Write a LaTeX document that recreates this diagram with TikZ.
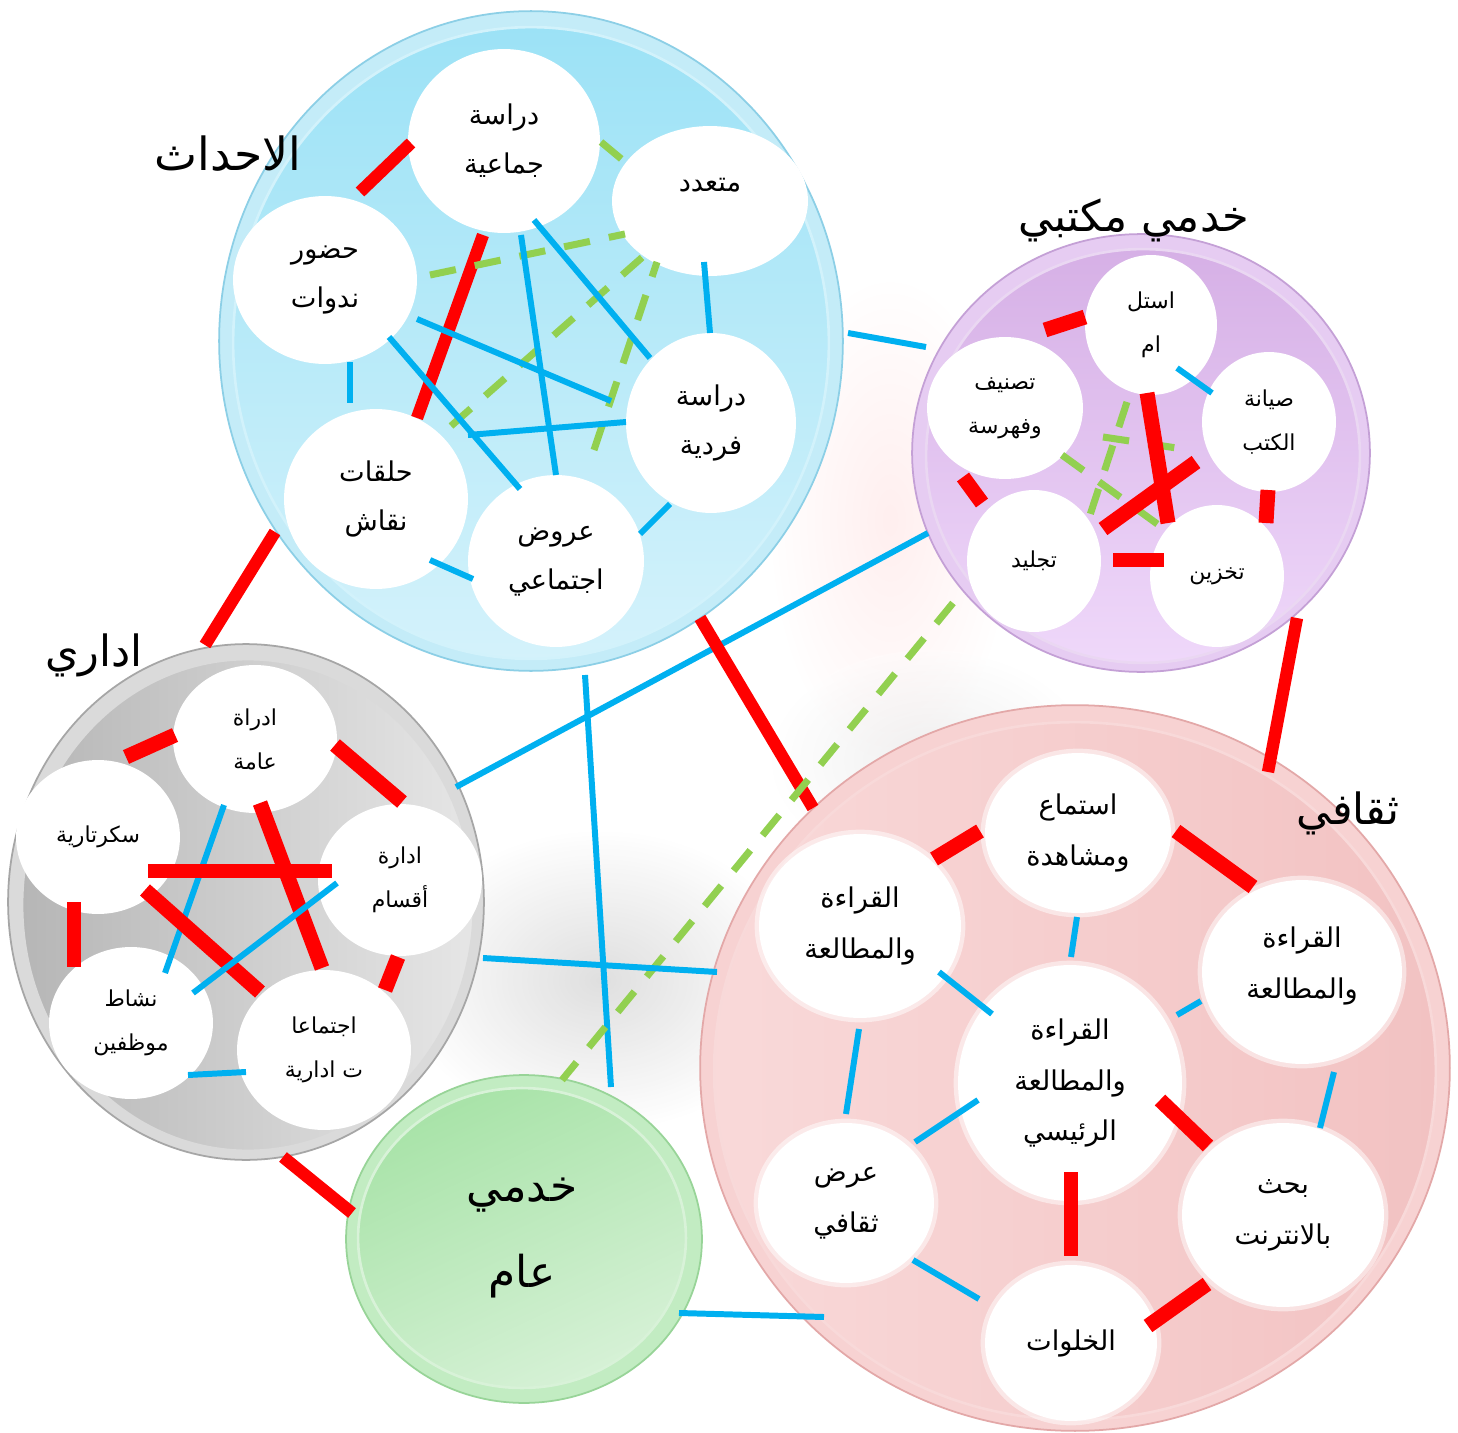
\documentclass[tikz,border=0pt]{standalone}
\usepackage{fontspec}
\usetikzlibrary{shapes.geometric}
\TeXXeTstate=1
\newfontfamily\arfont[Script=Arabic]{DejaVu Sans}
\newcommand\artx[1]{\beginR #1\endR}
\newcommand\mkseg[4]{\coordinate (#1a) at (#3); \coordinate (#1b) at (#4); \draw[#2] (#1a) -- (#1b);}
\definecolor{lnblue}{HTML}{00B0F0}
\definecolor{lngreen}{HTML}{92D050}
\definecolor{lnred}{HTML}{FF0000}
\definecolor{bRim}{HTML}{C4ECF8}\definecolor{bEdge}{HTML}{8CCFE6}\definecolor{bTop}{HTML}{9CE2F6}\definecolor{bBot}{HTML}{D4F2FB}
\definecolor{pRim}{HTML}{E6CCF2}\definecolor{pEdge}{HTML}{C4A0D6}\definecolor{pTop}{HTML}{D6B0E6}\definecolor{pBot}{HTML}{EFD8FA}
\definecolor{gRim}{HTML}{DADADA}\definecolor{gEdge}{HTML}{A6A6A6}\definecolor{gLeft}{HTML}{B6B6B6}\definecolor{gRight}{HTML}{E6E6E6}
\definecolor{kRim}{HTML}{F7D2D2}\definecolor{kEdge}{HTML}{E3A8A8}\definecolor{kLeft}{HTML}{F9D9D9}\definecolor{kMid}{HTML}{F1B3B3}\definecolor{kRight}{HTML}{F2C2C2}
\definecolor{eRim}{HTML}{C2ECC2}\definecolor{eEdge}{HTML}{98D498}\definecolor{eTop}{HTML}{A8E3A8}\definecolor{eBot}{HTML}{D6F1D6}
\begin{document}
\begin{tikzpicture}[x=0.02cm,y=-0.02cm,
  wc/.style 2 args={ellipse,fill=white,inner sep=0pt,align=center,minimum width=#1*0.04cm,minimum height=#2*0.04cm},
  big/.style 2 args={ellipse,inner sep=0pt,minimum width=#1*0.04cm,minimum height=#2*0.04cm},
  bl/.style={line width=3.4pt,lnblue},
  rd/.style={line width=7pt,lnred},
  rdb/.style={line width=8.5pt,lnred},
  gd/.style={line width=4pt,lngreen,dash pattern=on 15pt off 11pt},
  fblue/.style={align=center,font=\arfont\fontsize{15.5}{27.8}\selectfont},
  fpink/.style={align=center,font=\arfont\fontsize{15.5}{29}\selectfont},
  fsmall/.style={align=center,font=\arfont\fontsize{12.5}{25}\selectfont},
  ftitle/.style={font=\arfont\fontsize{24.5}{30}\selectfont},
  soft/.style={draw=white,draw opacity=0.5,line width=5pt}
]
\useasboundingbox (0,0) rectangle (1458,1433);
\fill[white] (0,0) rectangle (1458,1433);
% faint background photo tones
\shade[inner color=red!25!white,outer color=white,opacity=0.25] (890,520) ellipse [x radius=120,y radius=240];
\shade[inner color=gray!55,outer color=white,opacity=0.45] (600,980) ellipse [x radius=200,y radius=150];
\shade[inner color=gray!40,outer color=white,opacity=0.3] (930,760) ellipse [x radius=160,y radius=110];

% ---------------- big circles ----------------
\node[big={312}{330},fill=bRim,draw=bEdge,line width=1pt] (gEv) at (531,341) {};
\node[big={298}{316},top color=bTop,bottom color=bBot,draw=white!55!bTop,line width=1.5pt] (gEvIn) at (531,343) {};

\node[big={229}{219},fill=pRim,draw=pEdge,line width=1pt] (gLib) at (1141,453) {};
\node[big={217}{207},top color=pTop,bottom color=pBot,draw=white!50!pTop,line width=1.5pt] (gLibIn) at (1143,456) {};

\node[big={238}{258},fill=gRim,draw=gEdge,line width=1pt] (gAdm) at (246,902) {};
\node[big={226}{246},left color=gLeft,right color=gRight,draw=white!50!gLeft,line width=1.5pt] (gAdmIn) at (248,905) {};

\node[big={375}{363},fill=kRim,draw=kEdge,line width=1pt] (gCul) at (1075,1068) {};
\node[big={361}{349},left color=kLeft,middle color=kMid,right color=kRight,draw=white!50!kMid,line width=1.5pt] (gCulIn) at (1075,1071) {};

\node[big={178}{164},fill=eRim,draw=eEdge,line width=1pt] (gGen) at (524,1239) {};
\node[big={164}{150},top color=eTop,bottom color=eBot,shading angle=25,draw=white!55!eTop,line width=1.5pt,
      align=center,font=\arfont\fontsize{25}{49}\selectfont] (gGenIn) at (522,1238) {\artx{خدمي}\\\artx{عام}};

% ---------------- titles ----------------
\node[font=\arfont\fontsize{26}{30}\selectfont] (tEv) at (228,154) {\artx{الاحداث}};
\node[ftitle] (tLib) at (1134,220) {\artx{خدمي مكتبي}};
\node[ftitle] (tAdm) at (94,655) {\artx{اداري}};
\node[ftitle] (tCul) at (1348,813) {\artx{ثقافي}};

% ---------------- connectors between groups ----------------
\mkseg{x1}{bl}{848,333}{926,347}
\mkseg{x2}{rd}{275,532}{205,645}
\mkseg{x3}{bl}{456,787}{928,533}
\mkseg{x4}{rd}{700,618}{813,808}
\mkseg{x5}{bl}{585,675}{611,1087}
\mkseg{x6}{gd}{953,603}{562,1080}
\mkseg{x7}{rd}{1297,618}{1268,772}
\mkseg{x8}{bl}{483,958}{717,972}
\mkseg{x9}{rd}{283,1157}{352,1213}
\mkseg{x10}{bl}{679,1313}{824,1317}

% ---------------- group: events ----------------
\node[wc={96}{92},fblue] (a1) at (504,141) {\artx{دراسة}\\\artx{جماعية}};
\node[wc={98}{75}] (a2) at (710,201) {};
\node[fblue] (a2t) at (710,185) {\artx{متعدد}};
\node[wc={92}{84},fblue] (a3) at (325,280) {\artx{حضور}\\\artx{ندوات}};
\node[wc={85}{90},fblue] (a4) at (711,423) {\artx{دراسة}\\\artx{فردية}};
\node[wc={92}{90},fblue] (a5) at (376,499) {\artx{حلقات}\\\artx{نقاش}};
\node[wc={88}{86},fblue] (a6) at (556,561) {\artx{عروض}\\\artx{اجتماعي}};

\mkseg{e1}{rd}{360,192}{411,143}
\mkseg{e2}{rd}{483,235}{417,418}
\mkseg{e3}{gd}{601,142}{625,162}
\mkseg{e4}{gd}{430,275}{625,234}
\mkseg{e5}{gd}{451,426}{646,254}
\mkseg{e6}{gd}{594,450}{657,262}
\mkseg{e7}{bl}{521,235}{556,475}
\mkseg{e8}{bl}{534,220}{650,358}
\mkseg{e9}{bl}{704,262}{710,333}
\mkseg{e10}{bl}{417,319}{611,401}
\mkseg{e11}{bl}{389,337}{520,489}
\mkseg{e12}{bl}{350,362}{350,403}
\mkseg{e13}{bl}{468,435}{626,422}
\mkseg{e14}{bl}{430,560}{473,579}
\mkseg{e15}{bl}{640,534}{670,504}

% ---------------- group: library services ----------------
\node[wc={66}{70},fsmall] (p1) at (1151,325) {\artx{استل}\\\artx{ام}};
\node[wc={78}{71},fsmall] (p2) at (1005,408) {\artx{تصنيف}\\\artx{وفهرسة}};
\node[wc={67}{70},fsmall] (p3) at (1269,422) {\artx{صيانة}\\\artx{الكتب}};
\node[wc={67}{71},fsmall] (p4) at (1034,561) {\artx{تجليد}};
\node[wc={67}{71},fsmall] (p5) at (1217,576) {\artx{تخزين}};

\mkseg{l1}{rdb}{1045,330}{1085,317}
\mkseg{l2}{bl}{1177,368}{1212,393}
\mkseg{l3}{gd}{1062,455}{1167,531}
\mkseg{l4}{gd}{1127,402}{1090,515}
\mkseg{l5}{gd}{1103,437}{1190,450}
\mkseg{l6}{rdb}{1147,393}{1168,523}
\mkseg{l7}{rdb}{1103,529}{1196,462}
\mkseg{l8}{rdb}{963,477}{982,503}
\mkseg{l9}{rdb}{1113,560}{1164,560}
\mkseg{l10}{rdb}{1268,490}{1266,523}

% ---------------- group: administrative ----------------
\node[wc={82}{74},fsmall] (g1) at (255,739) {\artx{ادراة}\\\artx{عامة}};
\node[wc={82}{77},fsmall] (g2) at (98,837) {\artx{سكرتارية}};
\node[wc={82}{76},fsmall] (g3) at (400,880) {\artx{ادارة}\\\artx{أقسام}};
\node[wc={82}{76},fsmall] (g4) at (131,1023) {\artx{نشاط}\\\artx{موظفين}};
\node[wc={87}{80},fsmall] (g5) at (324,1050) {\artx{اجتماعا}\\\artx{ت ادارية}};

\mkseg{m1}{rdb}{126,757}{175,735}
\mkseg{m2}{rdb}{335,745}{402,802}
\mkseg{m3}{bl}{224,805}{165,973}
\mkseg{m4}{rdb}{260,803}{322,968}
\mkseg{m5}{rdb}{148,871}{332,871}
\mkseg{m6}{rdb}{145,890}{260,992}
\mkseg{m7}{bl}{337,883}{193,993}
\mkseg{m8}{rdb}{74,902}{74,967}
\mkseg{m9}{rdb}{398,957}{385,990}
\mkseg{m10}{bl}{188,1075}{246,1072}

% ---------------- group: cultural ----------------
\node[wc={93}{80},fpink,soft] (c1) at (1078,833) {\artx{استماع}\\\artx{ومشاهدة}};
\node[wc={101}{92},fpink,soft] (c2) at (860,926) {\artx{القراءة}\\\artx{والمطالعة}};
\node[wc={100}{92},soft] (c3) at (1302,972) {};
\node[fpink] (c3t) at (1302,966) {\artx{القراءة}\\\artx{والمطالعة}};
\node[wc={112}{118},fpink,soft] (c4) at (1070,1083) {\artx{القراءة}\\\artx{والمطالعة}\\\artx{الرئيسي}};
\node[wc={88}{80},fpink,soft] (c5) at (846,1203) {\artx{عرض}\\\artx{ثقافي}};
\node[wc={101}{92},fpink,soft] (c6) at (1283,1215) {\artx{بحث}\\\artx{بالانترنت}};
\node[wc={86}{78},fpink,soft] (c7) at (1071,1343) {\artx{الخلوات}};

\mkseg{k1}{rdb}{934,859}{980,831}
\mkseg{k2}{rdb}{1176,831}{1253,887}
\mkseg{k3}{bl}{1077,917}{1071,957}
\mkseg{k4}{bl}{939,972}{992,1014}
\mkseg{k5}{bl}{1201,1001}{1177,1015}
\mkseg{k6}{bl}{859,1029}{846,1114}
\mkseg{k7}{bl}{1334,1072}{1320,1128}
\mkseg{k8}{bl}{978,1100}{915,1142}
\mkseg{k9}{rdb}{1160,1100}{1208,1146}
\mkseg{k10}{rdb}{1071,1172}{1071,1256}
\mkseg{k11}{bl}{913,1260}{979,1299}
\mkseg{k12}{rdb}{1148,1326}{1207,1284}
\end{tikzpicture}
\end{document}
